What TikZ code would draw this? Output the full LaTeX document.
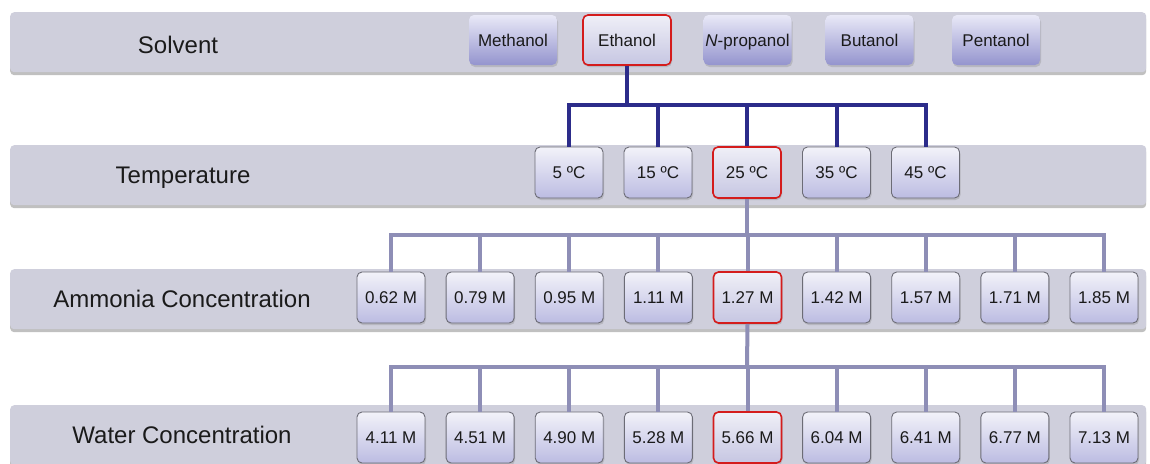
\documentclass[tikz,border=0pt]{standalone}
\usepackage{fontspec}
\setmainfont{Liberation Sans}
\usetikzlibrary{shadows}
\definecolor{barfill}{HTML}{CFCFDC}
\definecolor{navy}{HTML}{2C2C8A}
\definecolor{lav}{HTML}{8E8EB6}
\definecolor{selred}{HTML}{D41C1C}
\definecolor{nodeedge}{HTML}{6C6C76}
\definecolor{txt}{HTML}{1A1A1A}
\definecolor{soltop}{HTML}{E9E9F7}
\definecolor{solbot}{HTML}{9494CE}
\definecolor{valtop}{HTML}{F2F2F9}
\definecolor{valbot}{HTML}{BCBCE2}
\definecolor{seltop}{HTML}{EFEFF7}
\definecolor{selbot}{HTML}{C6C6E2}
\tikzset{
  rowbar/.style={fill=barfill, rounded corners=4pt, inner sep=0pt, minimum width=1136pt, minimum height=60pt, anchor=north west,
    drop shadow={shadow xshift=0pt, shadow yshift=-3pt, opacity=0.35, fill=black!70}},
  rowlabel/.style={anchor=base, inner sep=0pt, text=txt, font=\fontsize{24}{28}\selectfont},
  solnode/.style={rounded corners=5pt, top color=soltop, bottom color=solbot, minimum width=88pt, minimum height=50pt,
    inner sep=0pt, text height=12pt, text depth=0pt, text=txt, font=\fontsize{17}{20}\selectfont,
    drop shadow={shadow xshift=1pt, shadow yshift=-2pt, opacity=0.3}},
  valnode/.style={rounded corners=5pt, top color=valtop, bottom color=valbot, draw=nodeedge, line width=0.9pt,
    minimum width=68pt, minimum height=51pt, inner sep=0pt, text height=12pt, text depth=0pt, text=txt, font=\fontsize{17}{20}\selectfont,
    drop shadow={shadow xshift=1pt, shadow yshift=-2pt, opacity=0.3}},
  chosen/.style={draw=selred, line width=1.6pt, top color=seltop, bottom color=selbot},
  treeA/.style={draw=navy, line width=4pt},
  treeB/.style={draw=lav, line width=4pt},
}
\begin{document}
\begin{tikzpicture}[x=1pt,y=-1pt]
\clip (0,0) rectangle (1150,463);
\fill[white] (0,0) rectangle (1150,463);
% row bars
\node[rowbar] (barS) at (10,12) {};
\node[rowbar] (barT) at (10,145) {};
\node[rowbar] (barA) at (10,269) {};
\node[rowbar] (barW) at (10,405) {};
% row labels
\node[rowlabel] (lblS) at (178,53) {Solvent};
\node[rowlabel] (lblT) at (183,183) {Temperature};
\node[rowlabel] (lblA) at (182,307) {Ammonia Concentration};
\node[rowlabel] (lblW) at (182,443) {Water Concentration};
% bus points
\coordinate (b1) at (627,105);
\coordinate (b2) at (747,235);
\coordinate (b3) at (747,367);
% solvent nodes
\node[solnode] (meth) at (513,40) {Methanol};
\node[solnode,chosen] (eth) at (627,40) {Ethanol};
\node[solnode] (nprop) at (747.5,40) {\textit{N}-propanol};
\node[solnode] (but) at (869.5,40) {Butanol};
\node[solnode] (pent) at (996,40) {Pentanol};
% temperature nodes
\node[valnode] (t1) at (569,172.5) {5 ºC};
\node[valnode] (t2) at (658,172.5) {15 ºC};
\node[valnode,chosen] (t3) at (747,172.5) {25 ºC};
\node[valnode] (t4) at (836.5,172.5) {35 ºC};
\node[valnode] (t5) at (925.5,172.5) {45 ºC};
% ammonia nodes
\foreach \v [count=\i] in {0.62,0.79,0.95,1.11,1.27,1.42,1.57,1.71,1.85}{
  \ifnum\i=5
    \node[valnode,chosen] (a\i) at ({391+89.125*(\i-1)},297.5) {\v\ M};
  \else
    \node[valnode] (a\i) at ({391+89.125*(\i-1)},297.5) {\v\ M};
  \fi
}
% water nodes
\foreach \v [count=\i] in {4.11,4.51,4.90,5.28,5.66,6.04,6.41,6.77,7.13}{
  \ifnum\i=5
    \node[valnode,chosen] (w\i) at ({391+89.125*(\i-1)},437.5) {\v\ M};
  \else
    \node[valnode] (w\i) at ({391+89.125*(\i-1)},437.5) {\v\ M};
  \fi
}
% trees
\draw[treeA] (eth.south) -- (b1);
\foreach \i in {1,...,5}{ \draw[treeA] (b1) -| (t\i.north); }
\draw[treeB] (t3.south) -- (b2);
\foreach \i in {1,...,9}{ \draw[treeB] (b2) -| (a\i.north); }
\draw[treeB] (a5.south) -- (b3);
\foreach \i in {1,...,9}{ \draw[treeB] (b3) -| (w\i.north); }
\end{tikzpicture}
\end{document}
